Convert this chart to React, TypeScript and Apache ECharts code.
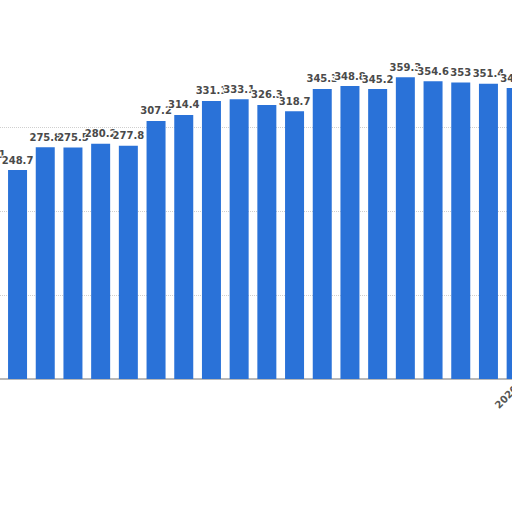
import React, { useEffect, useRef } from "react";
import * as echarts from "echarts";

const years = [
  "2001", "2002", "2003", "2004", "2005", "2006", "2007", "2008", "2009", "2010",
  "2011", "2012", "2013", "2014", "2015", "2016", "2017", "2018", "2019", "2020",
];
const values = [
  255.1, 248.7, 275.8, 275.5, 280.2, 277.8, 307.2, 314.4, 331.1, 333.1,
  326.3, 318.7, 345.3, 348.8, 345.2, 359.3, 354.6, 353, 351.4, 346.4,
];
const shownLabels = ["2020"];

export default function App() {
  const ref = useRef<HTMLDivElement>(null);
  useEffect(() => {
    document.body.style.margin = "0";
    const chart = echarts.init(ref.current!, undefined, { renderer: "svg" });
    chart.setOption({
      animation: false,
      backgroundColor: "transparent",
      grid: { left: 0, right: 0, top: 43, bottom: 133, containLabel: false },
      xAxis: {
        type: "category",
        data: years,
        axisLine: { show: true, lineStyle: { color: "#b8b8b8", width: 2 } },
        axisTick: { show: false },
        axisLabel: {
          rotate: 45,
          margin: 8,
          fontSize: 10,
          fontWeight: "bold",
          color: "#555",
          fontFamily: "DejaVu Sans",
          interval: (_i: number, v: string) => shownLabels.includes(v),
        },
      },
      yAxis: {
        type: "value",
        min: 0,
        max: 400,
        interval: 100,
        axisLabel: { show: false },
        axisLine: { show: false },
        axisTick: { show: false },
        splitLine: {
          show: true,
          showMaxLine: false,
          lineStyle: { color: "#cfcfcf", type: "dotted", width: 1 },
        },
      },
      series: [
        {
          type: "bar",
          data: values,
          barWidth: 19,
          itemStyle: { color: "#2a72d8" },
          label: {
            show: true,
            position: "top",
            distance: 5,
            fontSize: 10,
            fontWeight: "bold",
            fontFamily: "DejaVu Sans",
            color: "#4a4a4a",
            textBorderColor: "#fff",
            textBorderWidth: 2,
          },
        },
      ],
    });
    return () => chart.dispose();
  }, []);
  return (
    <div style={{ position: "relative", width: 512, height: 512, overflow: "hidden", background: "#fff" }}>
      <div ref={ref} style={{ position: "absolute", left: -24, top: 0, width: 554, height: 512 }} />
    </div>
  );
}
